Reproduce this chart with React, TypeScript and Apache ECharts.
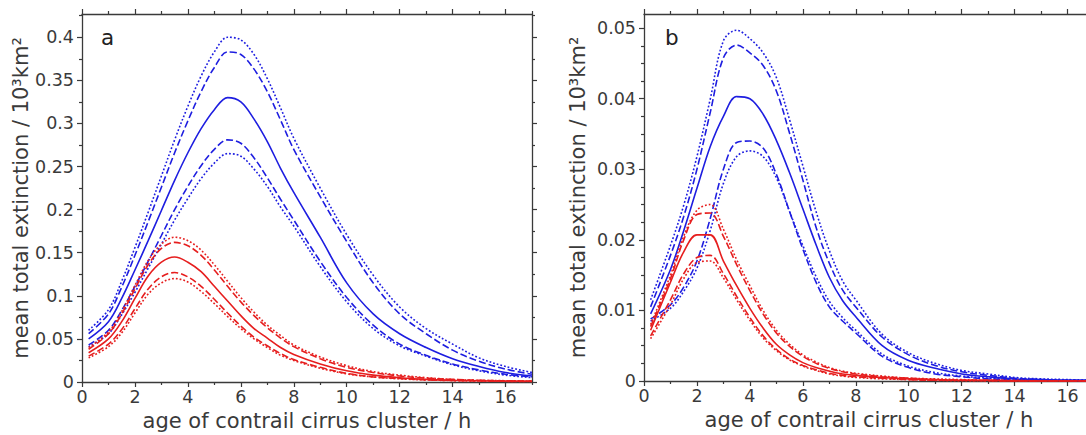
import React, { useEffect, useRef } from "react";
import * as echarts from "echarts";

// age of contrail cirrus cluster (h)
const hours = [0.25, 1, 1.5, 2, 2.5, 3, 3.5, 4, 4.5, 5, 5.5, 6, 6.5, 7, 7.5, 8, 9, 10, 11, 12, 13, 14, 15, 16, 17];

const xTicks = [0, 2, 4, 6, 8, 10, 12, 14, 16];
const xMinorTicks = [1, 3, 5, 7, 9, 11, 13, 15, 17];
const aYTicks = [0, 0.05, 0.1, 0.15, 0.2, 0.25, 0.3, 0.35, 0.4];
const aYMinorTicks = [0.025, 0.075, 0.125, 0.175, 0.225, 0.275, 0.325, 0.375, 0.425];
const bYTicks = [0, 0.01, 0.02, 0.03, 0.04, 0.05];
const bYMinorTicks = [0.0025, 0.005, 0.0075, 0.0125, 0.015, 0.0175, 0.0225, 0.025, 0.0275, 0.0325, 0.035, 0.0375, 0.0425, 0.045, 0.0475];

// panel a — blue
const aBlueDotUp = [0.060, 0.084, 0.117, 0.156, 0.197, 0.239, 0.281, 0.320, 0.355, 0.383, 0.400, 0.397, 0.380, 0.352, 0.318, 0.283, 0.225, 0.171, 0.124, 0.087, 0.062, 0.044, 0.028, 0.018, 0.011];
const aBlueDashUp = [0.056, 0.079, 0.110, 0.147, 0.186, 0.226, 0.266, 0.303, 0.337, 0.365, 0.383, 0.380, 0.363, 0.337, 0.304, 0.270, 0.215, 0.163, 0.115, 0.079, 0.056, 0.037, 0.024, 0.015, 0.009];
const aBlueSolid = [0.050, 0.070, 0.097, 0.130, 0.164, 0.199, 0.234, 0.266, 0.294, 0.316, 0.330, 0.325, 0.305, 0.279, 0.248, 0.220, 0.168, 0.115, 0.079, 0.056, 0.040, 0.027, 0.018, 0.011, 0.007];
const aBlueDashLo = [0.043, 0.060, 0.083, 0.111, 0.140, 0.170, 0.200, 0.227, 0.251, 0.270, 0.281, 0.277, 0.260, 0.237, 0.212, 0.188, 0.140, 0.098, 0.066, 0.044, 0.031, 0.021, 0.014, 0.009, 0.006];
const aBlueDotLo = [0.041, 0.056, 0.078, 0.104, 0.132, 0.160, 0.188, 0.213, 0.236, 0.254, 0.265, 0.262, 0.247, 0.227, 0.203, 0.181, 0.134, 0.093, 0.062, 0.042, 0.030, 0.020, 0.013, 0.008, 0.005];
// panel a — red
const aRedDotUp = [0.040, 0.058, 0.082, 0.112, 0.141, 0.160, 0.168, 0.164, 0.153, 0.136, 0.117, 0.098, 0.081, 0.066, 0.054, 0.043, 0.029, 0.019, 0.012, 0.008, 0.005, 0.003, 0.002, 0.0015, 0.001];
const aRedDashUp = [0.038, 0.056, 0.079, 0.108, 0.136, 0.155, 0.162, 0.158, 0.147, 0.130, 0.111, 0.093, 0.077, 0.063, 0.051, 0.041, 0.027, 0.017, 0.011, 0.007, 0.0045, 0.003, 0.002, 0.0013, 0.0009];
const aRedSolid = [0.034, 0.050, 0.070, 0.097, 0.123, 0.139, 0.145, 0.139, 0.128, 0.111, 0.094, 0.077, 0.062, 0.051, 0.040, 0.032, 0.021, 0.013, 0.008, 0.005, 0.003, 0.002, 0.0015, 0.001, 0.0008];
const aRedDashLo = [0.030, 0.044, 0.061, 0.085, 0.108, 0.122, 0.127, 0.122, 0.111, 0.096, 0.080, 0.065, 0.052, 0.042, 0.033, 0.026, 0.017, 0.010, 0.006, 0.004, 0.0025, 0.0017, 0.0012, 0.0008, 0.0006];
const aRedDotLo = [0.028, 0.041, 0.057, 0.080, 0.102, 0.115, 0.120, 0.116, 0.105, 0.091, 0.076, 0.062, 0.050, 0.040, 0.031, 0.025, 0.016, 0.0095, 0.0058, 0.0037, 0.0024, 0.0016, 0.0011, 0.0008, 0.0005];

// panel b — blue
const bBlueDotUp = [0.0115, 0.0192, 0.0249, 0.0318, 0.0399, 0.0482, 0.0497, 0.0485, 0.0465, 0.0430, 0.0370, 0.0305, 0.0240, 0.0185, 0.0142, 0.0115, 0.0066, 0.0040, 0.0025, 0.0015, 0.0010, 0.0005, 0.0003, 0.0002, 0.0001];
const bBlueDashUp = [0.0105, 0.0178, 0.0233, 0.0300, 0.0380, 0.0458, 0.0476, 0.0465, 0.0447, 0.0411, 0.0351, 0.0285, 0.0218, 0.0167, 0.0129, 0.0105, 0.0062, 0.0037, 0.0022, 0.0013, 0.0008, 0.0004, 0.0002, 0.0001, 0.0001];
const bBlueSolid = [0.0095, 0.0158, 0.0213, 0.0273, 0.0332, 0.0375, 0.0403, 0.0400, 0.0378, 0.0341, 0.0295, 0.0244, 0.0193, 0.0147, 0.0114, 0.0091, 0.0050, 0.0029, 0.0018, 0.0010, 0.0006, 0.0003, 0.0002, 0.0001, 0.0001];
const bBlueDashLo = [0.0088, 0.0108, 0.0133, 0.0170, 0.0230, 0.0300, 0.0338, 0.0340, 0.0330, 0.0293, 0.0240, 0.0187, 0.0140, 0.0105, 0.0085, 0.0068, 0.0035, 0.0019, 0.0010, 0.0006, 0.0003, 0.0002, 0.0001, 0.0001, 0.0];
const bBlueDotLo = [0.0085, 0.0103, 0.0127, 0.0160, 0.0213, 0.0280, 0.0318, 0.0326, 0.0318, 0.0288, 0.0240, 0.0192, 0.0148, 0.0113, 0.0090, 0.0072, 0.0038, 0.0021, 0.0012, 0.0007, 0.0004, 0.0002, 0.0001, 0.0001, 0.0];
// panel b — red
const bRedDotUp = [0.0080, 0.0150, 0.0205, 0.0242, 0.0250, 0.0215, 0.0172, 0.0135, 0.0100, 0.0072, 0.0052, 0.0037, 0.0027, 0.0019, 0.0014, 0.0011, 0.0007, 0.0004, 0.0003, 0.0002, 0.0001, 0.0001, 0.0, 0.0, 0.0];
const bRedDashUp = [0.0077, 0.0145, 0.0200, 0.0236, 0.0238, 0.0205, 0.0165, 0.0128, 0.0095, 0.0068, 0.0049, 0.0035, 0.0025, 0.0018, 0.0013, 0.0010, 0.0006, 0.0004, 0.0002, 0.0001, 0.0001, 0.0, 0.0, 0.0, 0.0];
const bRedSolid = [0.0072, 0.0140, 0.0183, 0.0207, 0.0207, 0.0170, 0.0135, 0.0103, 0.0075, 0.0052, 0.0037, 0.0026, 0.0019, 0.0014, 0.0010, 0.0008, 0.0005, 0.0003, 0.0002, 0.0001, 0.0001, 0.0, 0.0, 0.0, 0.0];
const bRedDashLo = [0.0064, 0.0115, 0.0152, 0.0175, 0.0178, 0.0152, 0.0120, 0.0090, 0.0064, 0.0045, 0.0031, 0.0022, 0.0016, 0.0011, 0.0008, 0.0006, 0.0004, 0.0002, 0.0001, 0.0001, 0.0, 0.0, 0.0, 0.0, 0.0];
const bRedDotLo = [0.0060, 0.0108, 0.0145, 0.0168, 0.0170, 0.0146, 0.0115, 0.0086, 0.0061, 0.0043, 0.0030, 0.0021, 0.0015, 0.0010, 0.0007, 0.0005, 0.0003, 0.0002, 0.0001, 0.0, 0.0, 0.0, 0.0, 0.0, 0.0];

const xTitle = "age of contrail cirrus cluster / h";
const yTitle = "mean total extinction / 10³km²";

const BLUE = "#1e1ee0";
const RED = "#e61e1e";
const AXIS = "#3a3a3a";
const FONT = "DejaVu Sans";

type Style = "solid" | "dash" | "dot";

function lineType(s: Style): any {
  if (s === "dash") return [7, 3];
  if (s === "dot") return [1.8, 2];
  return "solid";
}

function makeSeries(axisBase: number, values: number[], color: string, style: Style) {
  return {
    type: "line",
    xAxisIndex: axisBase,
    yAxisIndex: axisBase,
    data: hours.map((h, i) => [h, values[i]]),
    showSymbol: false,
    symbol: "none",
    smooth: 0.35,
    lineStyle: { color, width: 1.6, type: lineType(style) },
    silent: true,
    z: 3,
  };
}

function xAxes(grid: number, showName: boolean) {
  const base = {
    gridIndex: grid,
    type: "value",
    min: 0,
    max: 17,
    splitLine: { show: false },
  };
  return [
    {
      ...base,
      position: "bottom",
      axisLine: { show: true, onZero: false, lineStyle: { color: AXIS, width: 1.3 } },
      axisTick: { show: true, inside: false, length: 5, customValues: xTicks, lineStyle: { color: AXIS, width: 1.2 } },
      axisLabel: { show: true, customValues: xTicks, margin: 6, color: AXIS, fontSize: 17.5, fontFamily: FONT, formatter: (v: number) => String(v) },
      name: showName ? xTitle : "",
      nameLocation: "middle",
      nameGap: 27,
      nameTextStyle: { fontSize: 21, fontFamily: FONT, color: AXIS },
    },
    {
      ...base,
      position: "bottom",
      axisLine: { show: false, onZero: false },
      axisTick: { show: true, inside: false, length: 3, customValues: xMinorTicks, lineStyle: { color: AXIS, width: 1.2 } },
      axisLabel: { show: false },
    },
    {
      ...base,
      position: "top",
      axisLine: { show: true, onZero: false, lineStyle: { color: AXIS, width: 1.3 } },
      axisTick: { show: true, inside: false, length: 5, customValues: xTicks, lineStyle: { color: AXIS, width: 1.2 } },
      axisLabel: { show: false },
    },
    {
      ...base,
      position: "top",
      axisLine: { show: false, onZero: false },
      axisTick: { show: true, inside: false, length: 3, customValues: xMinorTicks, lineStyle: { color: AXIS, width: 1.2 } },
      axisLabel: { show: false },
    },
  ];
}

function yAxes(grid: number, max: number, interval: number, major: number[], minor: number[], nameGap: number) {
  const base = {
    gridIndex: grid,
    type: "value",
    min: 0,
    max,
    interval,
    splitLine: { show: false },
  };
  return [
    {
      ...base,
      position: "left",
      axisLine: { show: true, onZero: false, lineStyle: { color: AXIS, width: 1.3 } },
      axisTick: { show: true, inside: false, length: 5, customValues: major, lineStyle: { color: AXIS, width: 1.2 } },
      axisLabel: { show: true, customValues: major, margin: 8, color: AXIS, fontSize: 17.5, fontFamily: FONT, formatter: (v: number) => String(v) },
      name: yTitle,
      nameLocation: "middle",
      nameGap,
      nameTextStyle: { fontSize: 21, fontFamily: FONT, color: AXIS },
    },
    {
      ...base,
      position: "left",
      axisLine: { show: false, onZero: false },
      axisTick: { show: true, inside: false, length: 3, customValues: minor, lineStyle: { color: AXIS, width: 1.2 } },
      axisLabel: { show: false },
    },
    {
      ...base,
      position: "right",
      axisLine: { show: true, onZero: false, lineStyle: { color: AXIS, width: 1.3 } },
      axisTick: { show: true, inside: false, length: 5, customValues: major, lineStyle: { color: AXIS, width: 1.2 } },
      axisLabel: { show: false },
    },
    {
      ...base,
      position: "right",
      axisLine: { show: false, onZero: false },
      axisTick: { show: true, inside: false, length: 3, customValues: minor, lineStyle: { color: AXIS, width: 1.2 } },
      axisLabel: { show: false },
    },
  ];
}

export default function App() {
  const ref = useRef<HTMLDivElement>(null);

  useEffect(() => {
    if (!ref.current) return;
    const chart = echarts.init(ref.current, undefined, { renderer: "svg" });

    const aSeries = [
      makeSeries(0, aBlueDotUp, BLUE, "dot"),
      makeSeries(0, aBlueDashUp, BLUE, "dash"),
      makeSeries(0, aBlueSolid, BLUE, "solid"),
      makeSeries(0, aBlueDashLo, BLUE, "dash"),
      makeSeries(0, aBlueDotLo, BLUE, "dot"),
      makeSeries(0, aRedDotUp, RED, "dot"),
      makeSeries(0, aRedDashUp, RED, "dash"),
      makeSeries(0, aRedSolid, RED, "solid"),
      makeSeries(0, aRedDashLo, RED, "dash"),
      makeSeries(0, aRedDotLo, RED, "dot"),
    ];
    const bSeries = [
      makeSeries(4, bBlueDotUp, BLUE, "dot"),
      makeSeries(4, bBlueDashUp, BLUE, "dash"),
      makeSeries(4, bBlueSolid, BLUE, "solid"),
      makeSeries(4, bBlueDashLo, BLUE, "dash"),
      makeSeries(4, bBlueDotLo, BLUE, "dot"),
      makeSeries(4, bRedDotUp, RED, "dot"),
      makeSeries(4, bRedDashUp, RED, "dash"),
      makeSeries(4, bRedSolid, RED, "solid"),
      makeSeries(4, bRedDashLo, RED, "dash"),
      makeSeries(4, bRedDotLo, RED, "dot"),
    ];

    chart.setOption({
      animation: false,
      backgroundColor: "#ffffff",
      textStyle: { fontFamily: FONT },
      grid: [
        { left: 82, top: 14, width: 450, height: 368, containLabel: false, outerBoundsMode: "none" },
        { left: 644, top: 14, width: 450, height: 367, containLabel: false, outerBoundsMode: "none" },
      ],
      xAxis: [...xAxes(0, true), ...xAxes(1, true)],
      yAxis: [
        ...yAxes(0, 0.427, 0.05, aYTicks, aYMinorTicks, 48),
        ...yAxes(1, 0.052, 0.01, bYTicks, bYMinorTicks, 56),
      ],
      graphic: [
        {
          type: "text",
          x: 101,
          y: 37,
          silent: true,
          style: { text: "a", fontSize: 21.5, fontFamily: FONT, fill: "#222", verticalAlign: "middle", textVerticalAlign: "middle" },
        },
        {
          type: "text",
          x: 665,
          y: 37,
          silent: true,
          style: { text: "b", fontSize: 21.5, fontFamily: FONT, fill: "#222", verticalAlign: "middle", textVerticalAlign: "middle" },
        },
      ],
      series: [...aSeries, ...bSeries],
    });

    return () => {
      chart.dispose();
    };
  }, []);

  return (
    <div
      ref={ref}
      style={{ position: "absolute", left: 0, top: 0, width: 1086, height: 435, background: "#fff" }}
    />
  );
}
